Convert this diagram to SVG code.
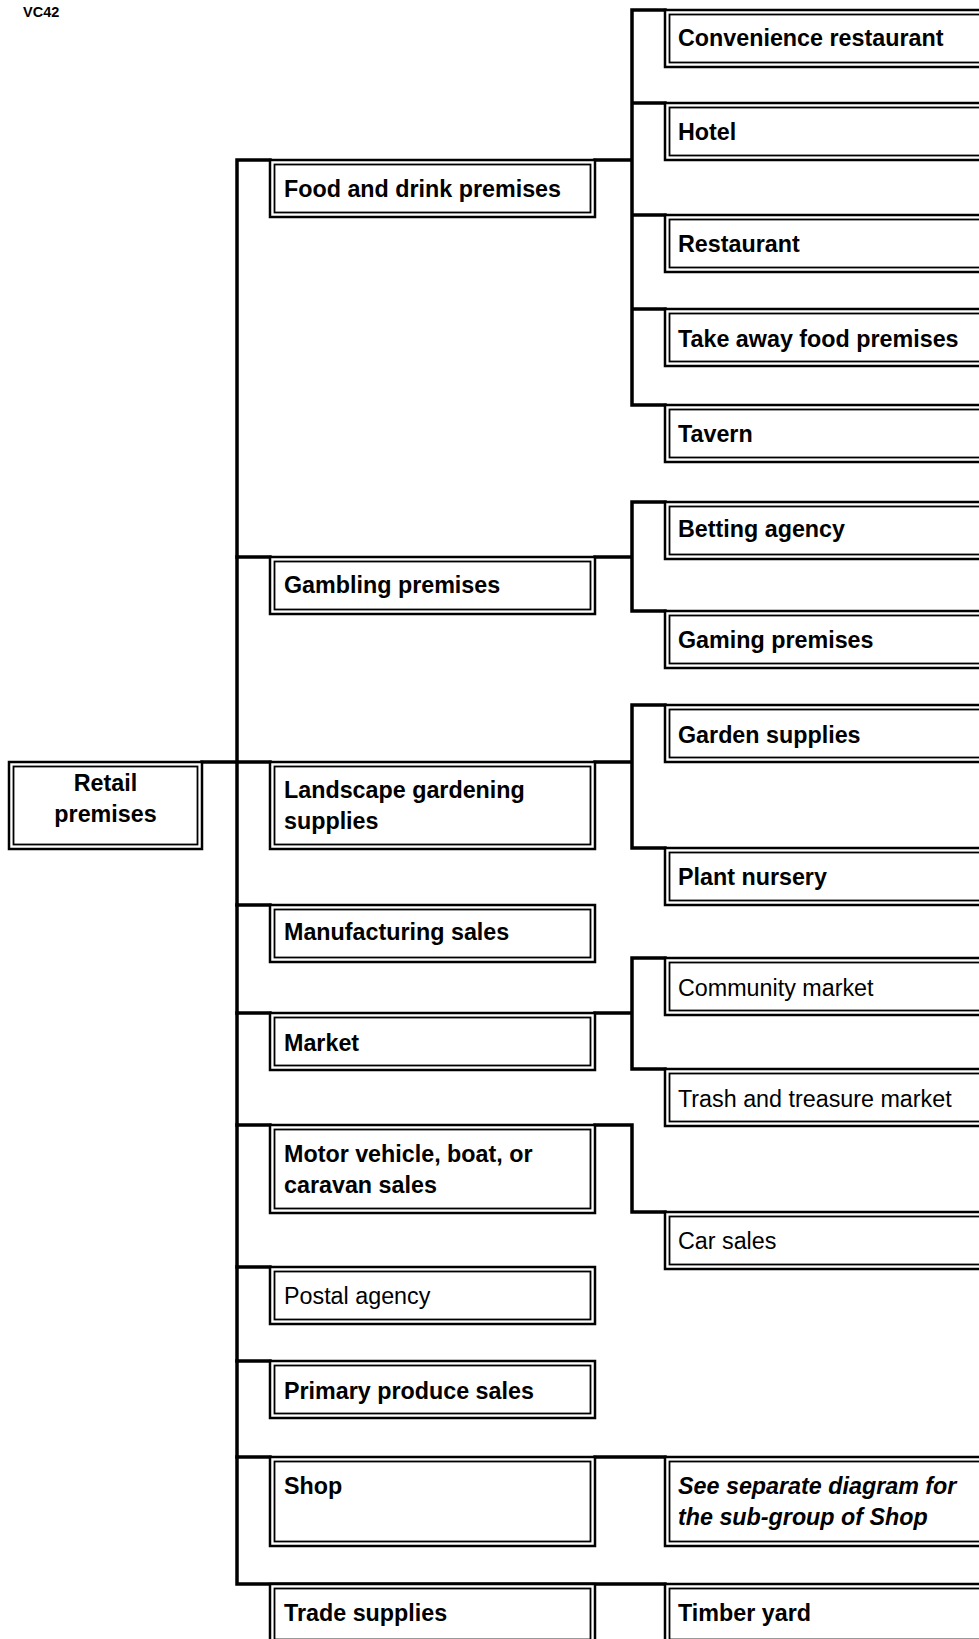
<svg xmlns="http://www.w3.org/2000/svg" width="979" height="1639" viewBox="0 0 979 1639">
<style>
.o{fill:#fff;stroke:#000;stroke-width:2.5}
.i{fill:none;stroke:#000;stroke-width:1.8}
.t{font-family:"Liberation Sans",Arial,sans-serif;font-size:23.3px;font-weight:bold;fill:#000}
.n{font-weight:normal}
.it{font-style:italic}
.c{fill:none;stroke:#000;stroke-width:3.5;stroke-linecap:square;stroke-linejoin:miter}
</style>
<rect width="979" height="1639" fill="#fff"/>
<text x="23" y="17" class="t" style="font-size:14.5px">VC42</text>
<g id="connectors" class="c">
<path d="M202,762 H270"/>
<path d="M270,160 H237 V1584 H665"/>
<path d="M237,557 H270 M237,905 H270 M237,1013 H270 M237,1125 H270 M237,1267 H270 M237,1361 H270 M237,1457 H270"/>
<path d="M595,160 H632 M665,10 H632 V405 H665 M632,103 H665 M632,215 H665 M632,309 H665"/>
<path d="M595,557 H632 M665,502 H632 V611 H665"/>
<path d="M595,762 H632 M665,705 H632 V848 H665"/>
<path d="M595,1013 H632 M665,958 H632 V1069 H665"/>
<path d="M595,1125 H632 V1212 H665"/>
<path d="M595,1457 H665"/>
</g>
<g id="retail"><rect class="o" x="9" y="762" width="193" height="87"/><rect class="i" x="13.5" y="766.5" width="184" height="78"/><text class="t" x="105.5" y="791" text-anchor="middle">Retail</text><text class="t" x="105.5" y="822" text-anchor="middle">premises</text></g>
<g id="food"><rect class="o" x="270" y="160" width="325" height="57"/><rect class="i" x="274.5" y="164.5" width="316" height="48"/><text class="t" x="284" y="196.5">Food and drink premises</text></g>
<g id="gambling"><rect class="o" x="270" y="557" width="325" height="57"/><rect class="i" x="274.5" y="561.5" width="316" height="48"/><text class="t" x="284" y="593">Gambling premises</text></g>
<g id="landscape"><rect class="o" x="270" y="762" width="325" height="87"/><rect class="i" x="274.5" y="766.5" width="316" height="78"/><text class="t" x="284" y="798">Landscape gardening</text><text class="t" x="284" y="829">supplies</text></g>
<g id="manufacturing"><rect class="o" x="270" y="905" width="325" height="57"/><rect class="i" x="274.5" y="909.5" width="316" height="48"/><text class="t" x="284" y="939.5">Manufacturing sales</text></g>
<g id="market"><rect class="o" x="270" y="1013" width="325" height="57"/><rect class="i" x="274.5" y="1017.5" width="316" height="48"/><text class="t" x="284" y="1051">Market</text></g>
<g id="motor"><rect class="o" x="270" y="1125" width="325" height="88"/><rect class="i" x="274.5" y="1129.5" width="316" height="79"/><text class="t" x="284" y="1161.5">Motor vehicle, boat, or</text><text class="t" x="284" y="1192.5">caravan sales</text></g>
<g id="postal"><rect class="o" x="270" y="1267" width="325" height="57"/><rect class="i" x="274.5" y="1271.5" width="316" height="48"/><text class="t n" x="284" y="1303.5">Postal agency</text></g>
<g id="primary"><rect class="o" x="270" y="1361" width="325" height="57"/><rect class="i" x="274.5" y="1365.5" width="316" height="48"/><text class="t" x="284" y="1398.5">Primary produce sales</text></g>
<g id="shop"><rect class="o" x="270" y="1457" width="325" height="89"/><rect class="i" x="274.5" y="1461.5" width="316" height="80"/><text class="t" x="284" y="1493.5">Shop</text></g>
<g id="trade"><rect class="o" x="270" y="1584" width="325" height="60"/><rect class="i" x="274.5" y="1588.5" width="316" height="51"/><text class="t" x="284" y="1620.5">Trade supplies</text></g>
<g id="convenience"><rect class="o" x="665" y="10" width="330" height="57"/><rect class="i" x="669.5" y="14.5" width="321" height="48"/><text class="t" x="678" y="46">Convenience restaurant</text></g>
<g id="hotel"><rect class="o" x="665" y="103" width="330" height="57"/><rect class="i" x="669.5" y="107.5" width="321" height="48"/><text class="t" x="678" y="140">Hotel</text></g>
<g id="restaurant"><rect class="o" x="665" y="215" width="330" height="57"/><rect class="i" x="669.5" y="219.5" width="321" height="48"/><text class="t" x="678" y="251.5">Restaurant</text></g>
<g id="takeaway"><rect class="o" x="665" y="309" width="330" height="57"/><rect class="i" x="669.5" y="313.5" width="321" height="48"/><text class="t" x="678" y="346.5">Take away food premises</text></g>
<g id="tavern"><rect class="o" x="665" y="405" width="330" height="57"/><rect class="i" x="669.5" y="409.5" width="321" height="48"/><text class="t" x="678" y="441.5">Tavern</text></g>
<g id="betting"><rect class="o" x="665" y="502" width="330" height="57"/><rect class="i" x="669.5" y="506.5" width="321" height="48"/><text class="t" x="678" y="537">Betting agency</text></g>
<g id="gaming"><rect class="o" x="665" y="611" width="330" height="57"/><rect class="i" x="669.5" y="615.5" width="321" height="48"/><text class="t" x="678" y="647.5">Gaming premises</text></g>
<g id="garden"><rect class="o" x="665" y="705" width="330" height="57"/><rect class="i" x="669.5" y="709.5" width="321" height="48"/><text class="t" x="678" y="742.5">Garden supplies</text></g>
<g id="plant"><rect class="o" x="665" y="848" width="330" height="57"/><rect class="i" x="669.5" y="852.5" width="321" height="48"/><text class="t" x="678" y="884.5">Plant nursery</text></g>
<g id="community"><rect class="o" x="665" y="958" width="330" height="57"/><rect class="i" x="669.5" y="962.5" width="321" height="48"/><text class="t n" x="678" y="995.5">Community market</text></g>
<g id="trash"><rect class="o" x="665" y="1069" width="330" height="57"/><rect class="i" x="669.5" y="1073.5" width="321" height="48"/><text class="t n" x="678" y="1106.5">Trash and treasure market</text></g>
<g id="car"><rect class="o" x="665" y="1212" width="330" height="57"/><rect class="i" x="669.5" y="1216.5" width="321" height="48"/><text class="t n" x="678" y="1248.5">Car sales</text></g>
<g id="separate"><rect class="o" x="665" y="1457" width="330" height="89"/><rect class="i" x="669.5" y="1461.5" width="321" height="80"/><text class="t it" x="678" y="1493.5">See separate diagram for</text><text class="t it" x="678" y="1524.5">the sub-group of Shop</text></g>
<g id="timber"><rect class="o" x="665" y="1584" width="330" height="60"/><rect class="i" x="669.5" y="1588.5" width="321" height="51"/><text class="t" x="678" y="1620.5">Timber yard</text></g>
</svg>
